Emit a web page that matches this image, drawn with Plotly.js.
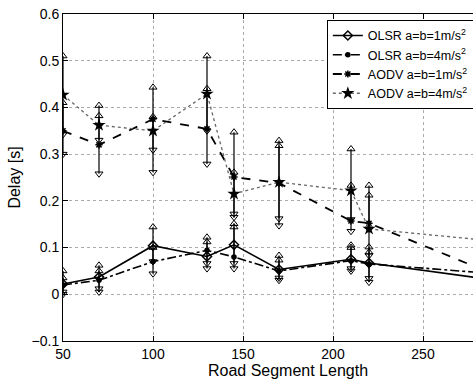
<!DOCTYPE html>
<html><head><meta charset="utf-8">
<script src="https://cdn.plot.ly/plotly-3.0.1.min.js"></script>
<style>html,body{margin:0;padding:0;overflow:hidden;background:#fff}#chart{width:523px;height:382px}</style>
</head><body><div id="chart"></div><script>
// Road segment lengths (x)
const roadLength = [50, 70, 100, 130, 145, 170, 210, 220, 300];

// OLSR a=b=1m/s^2
const olsr1Mean  = [0.022, 0.037, 0.104, 0.081, 0.106, 0.053, 0.075, 0.067, 0.025];
const olsr1Upper = [0.050, 0.062, 0.144, 0.122, 0.151, 0.083, 0.105, 0.101];
const olsr1Lower = [0.005, 0.012, 0.070, 0.055, 0.066, 0.035, 0.055, 0.034];

// OLSR a=b=4m/s^2
const olsr4Mean  = [0.020, 0.030, 0.070, 0.094, 0.080, 0.050, 0.072, 0.065, 0.041];
const olsr4Upper = [0.035, 0.050, 0.100, 0.112, 0.144, 0.073, 0.100, 0.090];
const olsr4Lower = [0.000, 0.005, 0.044, 0.066, 0.055, 0.030, 0.050, 0.026];

// AODV a=b=1m/s^2
const aodv1Mean  = [0.350, 0.320, 0.375, 0.354, 0.251, 0.238, 0.157, 0.152, 0.026];
const aodv1Upper = [0.410, 0.382, 0.443, 0.440, 0.347, 0.318, 0.311, 0.212];
const aodv1Lower = [0.300, 0.258, 0.261, 0.279, 0.165, 0.147, 0.135, 0.140];

// AODV a=b=4m/s^2
const aodv4Mean  = [0.427, 0.362, 0.350, 0.429, 0.215, 0.240, 0.222, 0.140, 0.110];
const aodv4Upper = [0.510, 0.404, 0.380, 0.510, 0.261, 0.329, 0.233, 0.233];
const aodv4Lower = [0.342, 0.330, 0.309, 0.350, 0.172, 0.162, 0.160, 0.083];

const seriesNames = ['OLSR a=b=1m/s<sup>2</sup>', 'OLSR a=b=4m/s<sup>2</sup>',
                     'AODV a=b=1m/s<sup>2</sup>', 'AODV a=b=4m/s<sup>2</sup>'];

const series = [
  {name: seriesNames[0], mean: olsr1Mean, up: olsr1Upper, lo: olsr1Lower,
   line: {color: '#000', width: 1.6, dash: 'solid'},
   marker: {symbol: 'diamond-open', size: 7, color: '#000', line: {width: 1.5, color: '#000'}}},
  {name: seriesNames[1], mean: olsr4Mean, up: olsr4Upper, lo: olsr4Lower,
   line: {color: '#000', width: 1.6, dash: 'dashdot'},
   marker: {symbol: 'circle', size: 5.5, color: '#000'}},
  {name: seriesNames[2], mean: aodv1Mean, up: aodv1Upper, lo: aodv1Lower,
   line: {color: '#000', width: 1.8, dash: 'dash'},
   marker: {symbol: 'asterisk-open', size: 6, color: '#000', line: {width: 1.5, color: '#000'}}},
  {name: seriesNames[3], mean: aodv4Mean, up: aodv4Upper, lo: aodv4Lower,
   line: {color: '#666', width: 1.3, dash: 'dot'},
   marker: {symbol: 'star', size: 10, color: '#000'}}
];

const traces = [];
series.forEach(s => {
  const n = s.up.length;
  const xs = roadLength.slice(0, n);
  const ms = s.mean.slice(0, n);
  traces.push({x: xs, y: ms, type: 'scatter', mode: 'none', showlegend: false, hoverinfo: 'skip',
    error_y: {type: 'data', symmetric: false,
      array: s.up.map((u, i) => u - ms[i]),
      arrayminus: s.lo.map((l, i) => ms[i] - l),
      width: 0, thickness: 1.2, color: '#000'}});
  traces.push({x: xs, y: s.up, type: 'scatter', mode: 'markers', showlegend: false, hoverinfo: 'skip',
    marker: {symbol: 'triangle-up-open', size: 7, color: '#000', line: {width: 1, color: '#000'}}});
  traces.push({x: xs, y: s.lo, type: 'scatter', mode: 'markers', showlegend: false, hoverinfo: 'skip',
    marker: {symbol: 'triangle-down-open', size: 7, color: '#000', line: {width: 1, color: '#000'}}});
});
series.forEach(s => {
  traces.push({x: roadLength, y: s.mean, type: 'scatter', mode: 'lines+markers', name: s.name,
    line: s.line, marker: s.marker});
});

const font = {family: 'Liberation Sans, Arial, sans-serif', color: '#000'};
const layout = {
  width: 523, height: 382,
  margin: {l: 63, r: 10, t: 14, b: 41},
  paper_bgcolor: '#fff', plot_bgcolor: '#fff',
  font: Object.assign({size: 13}, font),
  xaxis: {range: [50, 300], tick0: 50, dtick: 50, ticks: 'inside', ticklen: 5, tickcolor: '#000',
    showline: true, linecolor: '#000', linewidth: 1, mirror: 'ticks', zeroline: false,
    showgrid: true, gridcolor: '#aaa', griddash: 'dot', gridwidth: 1,
    tickfont: Object.assign({size: 14}, font),
    title: {text: 'Road Segment Length', font: Object.assign({size: 16}, font), standoff: 2}},
  yaxis: {range: [-0.1, 0.6], tick0: 0, dtick: 0.1, ticks: 'inside', ticklen: 5, tickcolor: '#000',
    showline: true, linecolor: '#000', linewidth: 1, mirror: 'ticks', zeroline: false,
    showgrid: true, gridcolor: '#aaa', griddash: 'dot', gridwidth: 1,
    tickfont: Object.assign({size: 14}, font),
    title: {text: 'Delay [s]', font: Object.assign({size: 16}, font), standoff: 6}},
  legend: {x: 0.913, xanchor: 'right', y: 0.982, yanchor: 'top',
    bgcolor: '#fff', bordercolor: '#000', borderwidth: 1,
    font: Object.assign({size: 12.5}, font), tracegroupgap: 0},
  showlegend: true
};

Plotly.newPlot('chart', traces, layout, {displayModeBar: false, staticPlot: true});
</script></body></html>
